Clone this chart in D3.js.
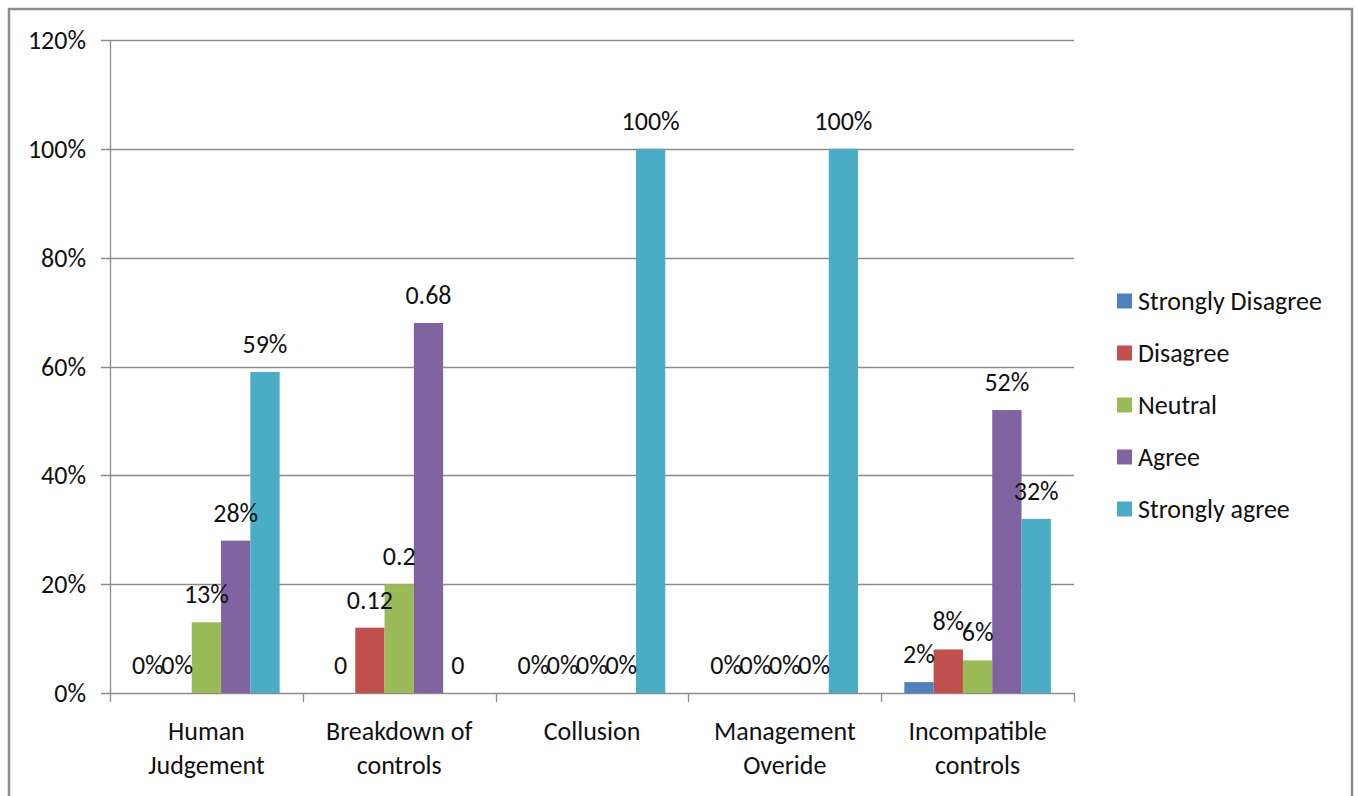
<!DOCTYPE html>
<html>
<head>
<meta charset="utf-8">
<script src="https://cdn.jsdelivr.net/npm/d3@7"></script>
<style>
  html, body { margin: 0; padding: 0; background: #fff; }
  svg { display: block; }
  text { font-family: Carlito, Lato, "Open Sans", sans-serif; fill: #111; }
</style>
</head>
<body>
<svg id="chart" width="1359" height="796"></svg>
<script>
// Survey responses per control weakness
const categories = [["Human", "Judgement"], ["Breakdown of", "controls"], ["Collusion"], ["Management", "Overide"], ["Incompatible", "controls"]];
const seriesNames = ["Strongly Disagree", "Disagree", "Neutral", "Agree", "Strongly agree"];
const seriesColors = ["#4F81BD", "#C0504D", "#9BBB59", "#8064A2", "#4BACC6"];
// values[category][series]
const values = [
  [0, 0, 0.13, 0.28, 0.59],
  [0, 0.12, 0.20, 0.68, 0],
  [0, 0, 0, 0, 1.00],
  [0, 0, 0, 0, 1.00],
  [0.02, 0.08, 0.06, 0.52, 0.32]
];
// data label style per category: percent or plain decimal
const labelStyle = ["percent", "decimal", "percent", "percent", "percent"];
const yTicks = [0, 0.2, 0.4, 0.6, 0.8, 1.0, 1.2];

const svg = d3.select("#chart");
const fontSize = 26;

// outer frame
svg.append("rect")
  .attr("x", 9).attr("y", 9).attr("width", 1343).attr("height", 800)
  .attr("fill", "none").attr("stroke", "#8c8c8c").attr("stroke-width", 2.5);

const plot = { left: 110, right: 1074, top: 40, bottom: 693 };

const x = d3.scaleBand().domain(d3.range(categories.length))
  .range([plot.left, plot.right]).paddingInner(0).paddingOuter(0);
// bars within each category, with empty space on both sides of the cluster
const xs = d3.scaleBand().domain(d3.range(seriesNames.length))
  .range([0, x.bandwidth()]).paddingInner(0).paddingOuter(0.79);
const y = d3.scaleLinear().domain([0, 1.2]).range([plot.bottom, plot.top]);

// gridlines
svg.append("g").selectAll("line").data(yTicks).join("line")
  .attr("x1", plot.left - 9).attr("x2", plot.right)
  .attr("y1", d => Math.round(y(d)) + 0.5).attr("y2", d => Math.round(y(d)) + 0.5)
  .attr("stroke", "#8c8c8c").attr("stroke-width", 1.3);

// y-axis labels
svg.append("g").selectAll("text").data(yTicks).join("text")
  .attr("x", 86).attr("y", d => y(d))
  .attr("text-anchor", "end").attr("dominant-baseline", "central")
  .style("font-size", fontSize + "px")
  .text(d3.format(".0%"));

// vertical axis line
svg.append("line")
  .attr("x1", plot.left + 0.5).attr("x2", plot.left + 0.5)
  .attr("y1", plot.top).attr("y2", plot.bottom)
  .attr("stroke", "#8c8c8c").attr("stroke-width", 1.3);

// category ticks
const tickXs = d3.range(categories.length + 1).map(i => plot.left + i * x.step());
svg.append("g").selectAll("line").data(tickXs).join("line")
  .attr("x1", d => Math.round(d) + 0.5).attr("x2", d => Math.round(d) + 0.5)
  .attr("y1", plot.bottom).attr("y2", plot.bottom + 9)
  .attr("stroke", "#8c8c8c").attr("stroke-width", 1.3);

// bars
const groups = svg.append("g").selectAll("g").data(values).join("g")
  .attr("transform", (d, i) => `translate(${x(i)},0)`);

groups.selectAll("rect").data(d => d).join("rect")
  .attr("x", (d, j) => xs(j))
  .attr("width", xs.bandwidth())
  .attr("y", d => y(d))
  .attr("height", d => y(0) - y(d))
  .attr("fill", (d, j) => seriesColors[j]);

// data labels
const fmtPct = d3.format(".0%");
const fmtDec = v => String(+v.toFixed(2));
groups.each(function (row, i) {
  d3.select(this).selectAll("text.lbl").data(row).join("text")
    .attr("class", "lbl")
    .attr("x", (d, j) => xs(j) + xs.bandwidth() / 2)
    .attr("y", d => y(d) - 19)
    .attr("text-anchor", "middle")
    .style("font-size", fontSize + "px")
    .text(d => labelStyle[i] === "percent" ? fmtPct(d) : fmtDec(d));
});

// category labels
svg.append("g").selectAll("text").data(categories).join("text")
  .attr("x", (d, i) => x(i) + x.bandwidth() / 2)
  .attr("y", 740)
  .attr("text-anchor", "middle")
  .style("font-size", fontSize + "px")
  .selectAll("tspan").data(d => d).join("tspan")
  .attr("x", function () { return d3.select(this.parentNode).attr("x"); })
  .attr("dy", (d, k) => k === 0 ? 0 : 34)
  .text(d => d);

// legend
const legend = svg.append("g").selectAll("g").data(seriesNames).join("g")
  .attr("transform", (d, j) => `translate(1117,${301 + j * 52})`);
legend.append("rect")
  .attr("x", 0).attr("y", -7.5).attr("width", 15).attr("height", 15)
  .attr("fill", (d, j) => seriesColors[j]);
legend.append("text")
  .attr("x", 21).attr("y", 0).attr("dominant-baseline", "central")
  .style("font-size", fontSize + "px")
  .text(d => d);
</script>
</body>
</html>
